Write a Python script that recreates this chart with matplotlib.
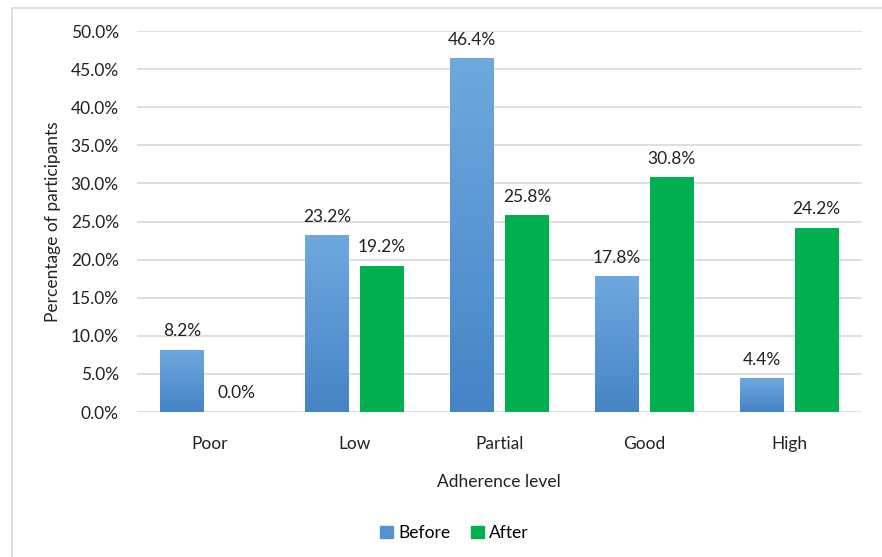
import numpy as np
import matplotlib
matplotlib.use("Agg")
import matplotlib.pyplot as plt
from matplotlib.patches import Rectangle, Patch
from matplotlib.colors import LinearSegmentedColormap
from matplotlib.ticker import FuncFormatter

plt.rcParams["font.family"] = ["Lato", "DejaVu Sans"]

levels = ["Poor", "Low", "Partial", "Good", "High"]
before = [8.2, 23.2, 46.4, 17.8, 4.4]
after = [0.0, 19.2, 25.8, 30.8, 24.2]

fig = plt.figure(figsize=(8.82, 5.57), dpi=100)
ax = fig.add_axes([0.1553, 0.2603, 0.8217, 0.684])

x = np.arange(len(levels))
w = 0.30
off = 0.19
blue_top = "#6ea8de"
blue_bot = "#4584c6"
green = "#00b050"
fs = 12.5
tc = "#222222"

grad = LinearSegmentedColormap.from_list("b", [blue_bot, blue_top])
bars_b = ax.bar(x - off, before, w, color="none", edgecolor="none", zorder=3)
for b in bars_b:
    h = b.get_height()
    x0 = b.get_x()
    img = ax.imshow(np.linspace(0, 1, 100).reshape(-1, 1), cmap=grad, origin="lower",
                    extent=[x0, x0 + b.get_width(), 0, h], aspect="auto", zorder=3)
    img.set_clip_path(b)
bars_a = ax.bar(x + off, after, w, color=green, zorder=3)

for xi, v in zip(x - off, before):
    ax.text(xi, v + 1.4, f"{v:.1f}%", ha="center", va="bottom", fontsize=fs, color=tc)
for xi, v in zip(x + off, after):
    ax.text(xi, v + 1.4, f"{v:.1f}%", ha="center", va="bottom", fontsize=fs, color=tc)

ax.set_xlim(-0.5, 4.5)
ax.set_ylim(0, 50)
ax.set_yticks(np.arange(0, 50.1, 5))
ax.yaxis.set_major_formatter(FuncFormatter(lambda v, p: f"{v:.1f}%"))
ax.set_xticks(x)
ax.set_xticklabels(levels)
ax.tick_params(axis="both", length=0, labelsize=fs, colors=tc)
ax.tick_params(axis="x", pad=17)
ax.tick_params(axis="y", pad=13)
ax.yaxis.grid(True, color="#d9d9d9", linewidth=1.2, zorder=0)
ax.set_axisbelow(True)
for s in ax.spines.values():
    s.set_visible(False)

ax.set_xlabel("Adherence level", fontsize=fs, labelpad=16, color=tc)
ax.set_ylabel("Percentage of participants", fontsize=fs, labelpad=7, color=tc)

handles = [Patch(color="#5693d2", label="Before"), Patch(color=green, label="After")]
fig.legend(handles=handles, loc="center", bbox_to_anchor=(0.515, 0.043), ncol=2,
           frameon=False, fontsize=fs, handlelength=0.75, handleheight=0.75,
           handletextpad=0.3, columnspacing=1.2)

fig.patches.append(Rectangle((12 / 882, -0.01), 1.0, 1 - 8 / 557 + 0.01, transform=fig.transFigure,
                             fill=False, edgecolor="#d9d9d9", linewidth=1.2))

fig.savefig("out.png", dpi=100)
